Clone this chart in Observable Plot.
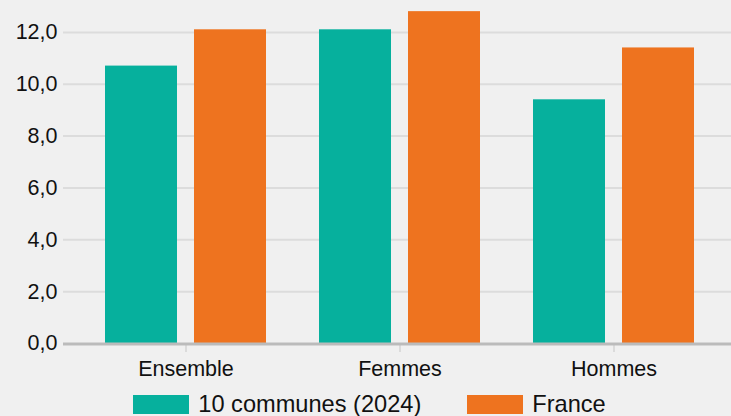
<!DOCTYPE html>
<html>
<head>
<meta charset="utf-8">
<script src="https://cdn.jsdelivr.net/npm/d3@7"></script>
<script src="https://cdn.jsdelivr.net/npm/@observablehq/plot@0.6"></script>
<style>
  html, body { margin: 0; padding: 0; background: #f0f0f0; overflow: hidden; }
  #chart { width: 731px; }
  .legend { display: flex; justify-content: center; align-items: center; height: 31px; padding-top: 4px;
    font-family: "Liberation Sans", Arial, Helvetica, sans-serif; font-size: 23.6px; color: #111; padding-left: 8px; }
  .legend .item { display: flex; align-items: center; }
  .legend .sw { width: 56px; height: 19px; margin-right: 9px; margin-top: -1px; }
  .legend .item + .item { margin-left: 46px; }
</style>
</head>
<body>
<div id="chart"></div>
<script>
const categories = ["Ensemble", "Femmes", "Hommes"];
const seriesNames = ["10 communes (2024)", "France"];
const communesValues = [10.7, 12.1, 9.4];
const franceValues = [12.1, 12.8, 11.4];
const yTicks = [0, 2, 4, 6, 8, 10, 12];
const colors = ["#06b09d", "#ee731f"];

const communesData = categories.map((c, i) => ({category: c, value: communesValues[i]}));
const franceData = categories.map((c, i) => ({category: c, value: franceValues[i]}));

const fmt = d => d.toFixed(1).replace(".", ",");

const chart = Plot.plot({
  width: 731,
  height: 385,
  marginLeft: 63,
  marginRight: 0,
  marginTop: 0,
  marginBottom: 42,
  style: {background: "#f0f0f0", fontFamily: "'Liberation Sans', Arial, Helvetica, sans-serif", fontSize: "21.5px", color: "#111"},
  x: {domain: categories, range: [63, 736], paddingInner: 0.248, paddingOuter: 0.196, label: null},
  y: {domain: [0, 13.23], label: null},
  marks: [
    Plot.ruleY(yTicks.filter(d => d > 0), {stroke: "#dcdcdc", strokeWidth: 2}),
    Plot.barY(communesData, {x: "category", y: "value", fill: colors[0], insetRight: 89, insetLeft: 0}),
    Plot.barY(franceData, {x: "category", y: "value", fill: colors[1], insetLeft: 89, insetRight: 0}),
    Plot.axisX({tickSize: 8, tickPadding: 8, stroke: "#d4d4d4", strokeWidth: 1.5, fill: "#111", dy: 1, label: null}),
    Plot.ruleY([0], {stroke: "#bbbbbb", strokeWidth: 3, dy: 0.5}),
    Plot.axisY(yTicks, {tickSize: 0, tickPadding: 6, tickFormat: fmt, fill: "#111", label: null})
  ]
});
document.getElementById("chart").appendChild(chart);

const legend = document.createElement("div");
legend.className = "legend";
seriesNames.forEach((name, i) => {
  const item = document.createElement("div");
  item.className = "item";
  const sw = document.createElement("span");
  sw.className = "sw";
  sw.style.background = colors[i];
  const t = document.createElement("span");
  t.textContent = name;
  item.appendChild(sw);
  item.appendChild(t);
  legend.appendChild(item);
});
document.getElementById("chart").appendChild(legend);
</script>
</body>
</html>
